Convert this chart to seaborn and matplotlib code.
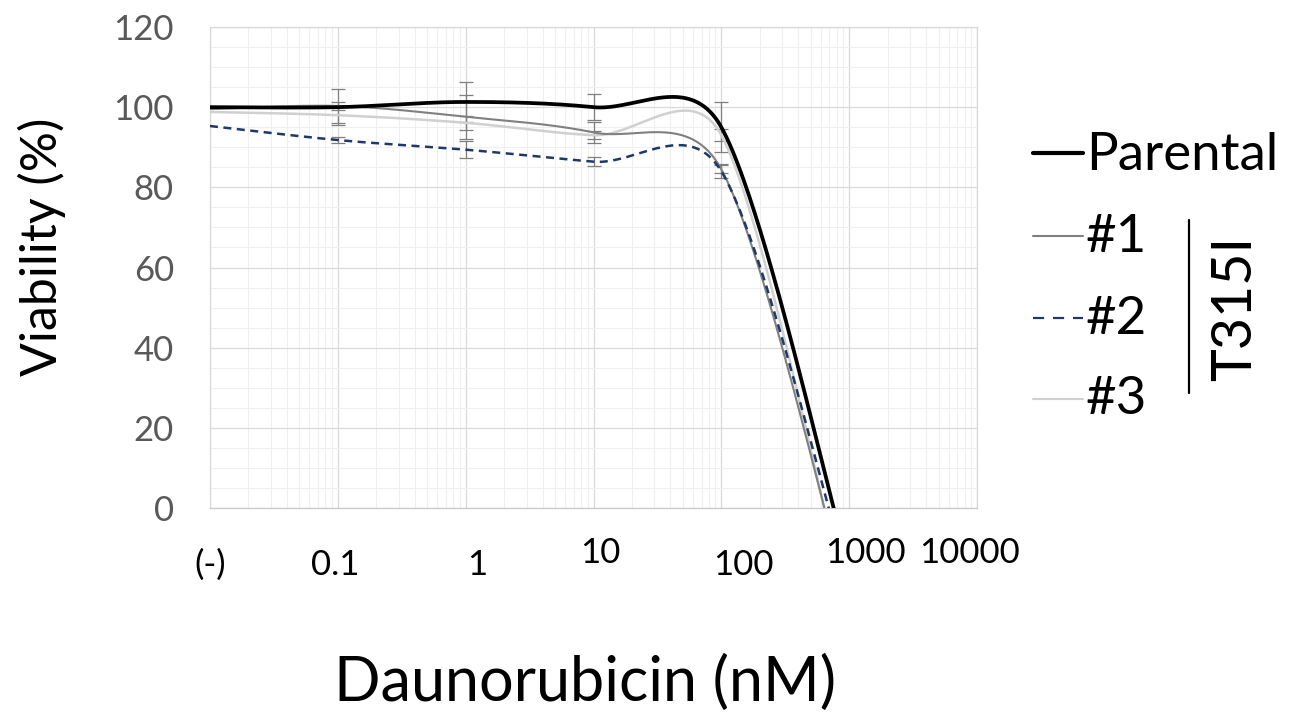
import numpy as np
import matplotlib
matplotlib.use("Agg")
import matplotlib.pyplot as plt
from matplotlib.lines import Line2D
from matplotlib.ticker import MultipleLocator, LogLocator, NullFormatter
import seaborn as sns

# ---------------- data ----------------
conc = [0.01, 0.1, 1, 10, 100, 1000]          # 0.01 stands for the untreated control "(-)"
tick_labels = ["(-)", "0.1", "1", "10", "100", "1000", "10000"]

parental = [100.0, 100.0, 101.3, 100.0, 95.0, -14.8]
clone1 = [99.5, 100.3, 97.6, 93.7, 84.5, -23.5]
clone2 = [95.3, 91.8, 89.4, 86.4, 84.0, -18.5]
clone3 = [98.8, 98.0, 96.1, 93.0, 93.0, -26.5]

parental_sd = [0, 4.5, 5.1, 3.2, 6.2, 0]
clone1_sd = [0, 1.0, 5.5, 2.6, 1.0, 0]
clone2_sd = [0, 0.8, 2.1, 1.2, 1.7, 0]
clone3_sd = [0, 2.0, 1.7, 1.0, 1.5, 0]

series_names = ["Parental", "#1", "#2", "#3"]

# ---------------- style ----------------
FONT = ["Lato", "DejaVu Sans"]
sns.set_theme(style="white")
plt.rcParams["font.family"] = FONT

W, H = 1290, 714
fig = plt.figure(figsize=(W / 100, H / 100), dpi=100)
ax = fig.add_axes([210 / W, 1 - 508 / H, (977 - 210) / W, (508 - 27) / H])

styles = {
    "Parental": dict(color="#000000", lw=2.7, ls="-"),
    "#1": dict(color="#808080", lw=1.5, ls="-"),
    "#2": dict(color="#1f3868", lw=1.8, ls=(0, (3.2, 2.2))),
    "#3": dict(color="#d0d0d0", lw=1.8, ls="-"),
}


def excel_smooth(xs, ys, sx=127.8, sy=4.01, n=80):
    """Bezier smoothing similar to spreadsheet 'smoothed line' (in screen proportions)."""
    P = np.column_stack([np.log10(xs) * sx, np.asarray(ys, float) * sy])
    m = len(P)
    out = []
    for i in range(m - 1):
        p0 = P[i - 1] if i > 0 else P[i]
        p1, p2 = P[i], P[i + 1]
        p3 = P[i + 2] if i + 2 < m else P[i + 1]
        d12 = np.linalg.norm(p2 - p1)
        t1 = (p2 - p0) / 6.0
        t2 = (p3 - p1) / 6.0
        for t_ in (t1, t2):
            L = np.linalg.norm(t_)
            if L > d12 / 2:
                t_ *= (d12 / 2) / L
        c1 = p1 + t1
        c2 = p2 - t2
        t = np.linspace(0, 1, n)[:, None]
        seg = (1 - t) ** 3 * p1 + 3 * (1 - t) ** 2 * t * c1 + 3 * (1 - t) * t ** 2 * c2 + t ** 3 * p2
        out.append(seg if i == 0 else seg[1:])
    pts = np.vstack(out)
    return 10 ** (pts[:, 0] / sx), pts[:, 1] / sy


ax.set_xscale("log")
ax.set_xlim(0.01, 10000)
ax.set_ylim(0, 120)

data = {"Parental": (parental, parental_sd), "#1": (clone1, clone1_sd),
        "#2": (clone2, clone2_sd), "#3": (clone3, clone3_sd)}

# error bars (drawn under the lines)
for name in ["#3", "#1", "#2", "Parental"]:
    vals, sd = data[name]
    ax.errorbar(conc[1:5], vals[1:5], yerr=sd[1:5], fmt="none", ecolor="#7f7f7f",
                elinewidth=0.9, capsize=5, capthick=0.9, zorder=3)

for name in ["#3", "#1", "#2", "Parental"]:
    vals, _ = data[name]
    sx_, sy_ = excel_smooth(conc, vals)
    st = styles[name]
    sns.lineplot(x=sx_, y=sy_, ax=ax, sort=False, estimator=None, color=st["color"],
                 linewidth=st["lw"], linestyle=st["ls"], zorder=4)

# grid
ax.yaxis.set_major_locator(MultipleLocator(20))
ax.yaxis.set_minor_locator(MultipleLocator(5))
ax.xaxis.set_major_locator(LogLocator(base=10, numticks=20))
ax.xaxis.set_minor_locator(LogLocator(base=10, subs=np.arange(2, 10), numticks=20))
ax.xaxis.set_major_formatter(NullFormatter())
ax.xaxis.set_minor_formatter(NullFormatter())
ax.grid(which="major", color="#d9d9d9", linewidth=0.9)
ax.grid(which="minor", color="#efefef", linewidth=0.8)
ax.set_axisbelow(True)
for s in ax.spines.values():
    s.set_color("#d9d9d9")
    s.set_linewidth(0.9)
ax.spines["bottom"].set_color("#c8c8c8")

ax.tick_params(axis="both", which="both", length=0)
ax.tick_params(axis="y", labelsize=25, labelcolor="#595959", pad=26)
ax.set_xlabel("")
ax.set_ylabel("")

# x tick labels (placed like the text boxes of the original)
label_x = [0.01, 0.095, 1.23, 11.3, 150, 1330, 8700]
label_y = [-0.118, -0.118, -0.118, -0.093, -0.118, -0.093, -0.093]
for lx, ly, txt in zip(label_x, label_y, tick_labels):
    ax.text(lx, ly, txt, transform=ax.get_xaxis_transform(), ha="center", va="center",
            fontsize=25, color="#000000", clip_on=False)

fig.text(42 / W, 1 - 247 / H, "Viability (%)", rotation=90, ha="center", va="center",
         fontsize=36, color="#000000")
fig.text(585 / W, 1 - 683 / H, "Daunorubicin (nM)", ha="center", va="center",
         fontsize=44, color="#000000")

# legend
leg_y = {"Parental": 153, "#1": 236, "#2": 318, "#3": 399}
txt_y = {"Parental": 155, "#1": 238, "#2": 320, "#3": 400}
leg_lw = {"Parental": 3.0, "#1": 1.5, "#2": 1.6, "#3": 1.5}
leg_ls = {"Parental": "-", "#1": "-", "#2": (0, (5, 4)), "#3": "-"}
for name in series_names:
    y = 1 - leg_y[name] / H
    fig.add_artist(Line2D([1033 / W, 1083 / W], [y, y], transform=fig.transFigure,
                          color=styles[name]["color"], lw=leg_lw[name], ls=leg_ls[name]))
    fig.text(1086 / W, 1 - txt_y[name] / H, name, ha="left", va="center", fontsize=38,
             color="#000000")

fig.add_artist(Line2D([1189 / W, 1189 / W], [1 - 220 / H, 1 - 393 / H], transform=fig.transFigure,
                      color="#000000", lw=1.6))
fig.text(1236 / W, 1 - 308 / H, "T315I", rotation=90, ha="center", va="center",
         fontsize=40, color="#000000")

fig.savefig("out.png", dpi=100, facecolor="white")
